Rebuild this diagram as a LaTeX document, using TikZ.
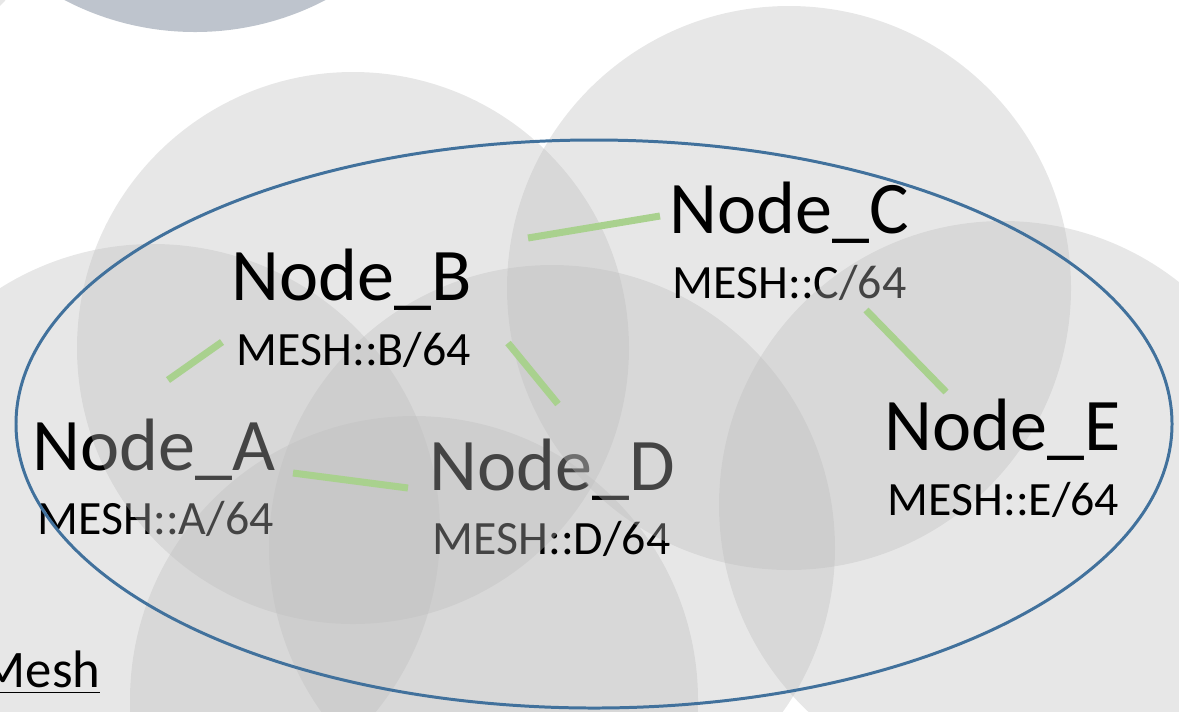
\documentclass[tikz,border=0pt]{standalone}
\usepackage{fontspec}
\setmainfont{Carlito}

\definecolor{zonegray}{RGB}{189,189,189}
\definecolor{topblue}{RGB}{190,196,205}
\definecolor{meshblue}{RGB}{65,113,156}
\definecolor{linkgreen}{RGB}{169,209,142}

\begin{document}
\begin{tikzpicture}[x=0.01cm, y=-0.01cm,
	zone/.style={fill=zonegray, fill opacity=0.36},
	big/.style={anchor=base west, inner sep=0pt, font=\fontsize{21.1}{25}\selectfont},
	small/.style={anchor=base west, inner sep=0pt, font=\fontsize{13.6}{16}\selectfont},
	link/.style={draw=linkgreen, line width=2pt}]
	\clip (0,0) rectangle (1179,711);

	% radio ranges underneath the labels
	\fill[topblue] (195,-250) circle (282);
	\fill[zone] (-200,-190) circle (280);
	\fill[zone] (153,531) circle (287);
	\fill[zone] (552,548) circle (283);
	\fill[zone] (414,700) circle (284);

	\node[big] (A) at (32,470) {Node\_A};
	\node[small] (mA) at (37,534) {MESH::A/64};
	\node[big] (D) at (429,490) {Node\_D};
	\node[small] (mD) at (432,554) {MESH::D/64};

	\fill[zone] (353,348) circle (276);
	\fill[zone] (789,288) circle (282);

	\node[big] (B) at (231,300) {Node\_B};
	\node[small] (mB) at (236,365) {MESH::B/64};
	\node[big] (C) at (669,233) {Node\_C};
	\node[small] (mC) at (672,298) {MESH::C/64};

	\fill[zone] (1003,505) circle (284);

	\node[big] (E) at (884,450) {Node\_E};
	\node[small] (mE) at (887,515) {MESH::E/64};

	% the mesh boundary
	\draw[meshblue, line width=0.85pt] (594,424) ellipse [x radius=578, y radius=284];
	\node[anchor=base west, inner sep=0pt, font=\fontsize{15}{18}\selectfont] (mesh) at (-20,687) {$\underline{\hbox{Mesh}}$};

	% links
	\coordinate (ab1) at (168,380);  \coordinate (ab2) at (222,342);
	\coordinate (bc1) at (528,238);  \coordinate (bc2) at (660,216);
	\coordinate (bd1) at (508,343);  \coordinate (bd2) at (558,404);
	\coordinate (ad1) at (293,473);  \coordinate (ad2) at (408,488);
	\coordinate (ce1) at (866,310);  \coordinate (ce2) at (946,392);
	\draw[link] (ab1) -- (ab2);
	\draw[link] (bc1) -- (bc2);
	\draw[link] (bd1) -- (bd2);
	\draw[link] (ad1) -- (ad2);
	\draw[link] (ce1) -- (ce2);
\end{tikzpicture}
\end{document}
